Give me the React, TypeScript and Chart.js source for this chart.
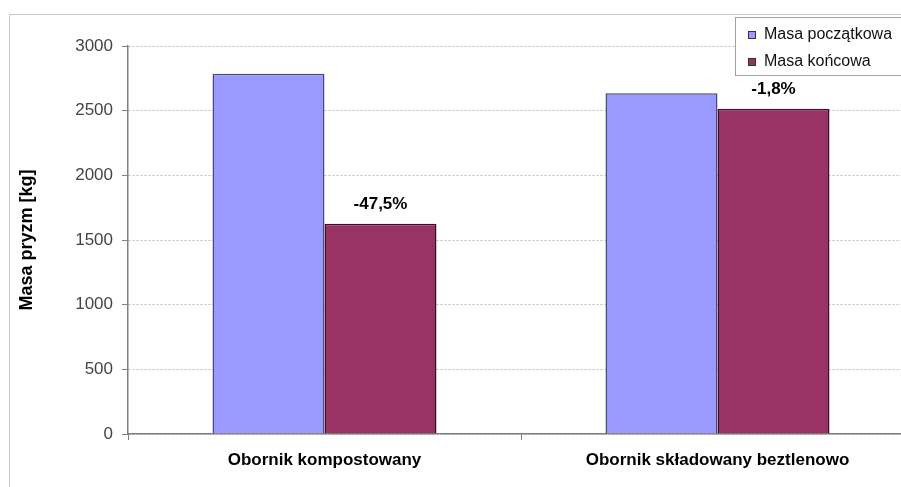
import React, { useEffect, useRef } from "react";
import { Chart, registerables } from "chart.js";

Chart.register(...registerables);

const categories = ["Obornik kompostowany", "Obornik składowany beztlenowo"];
const masaPoczatkowa = [2785, 2635];
const masaKoncowa = [1625, 2515];
const changeLabels = ["-47,5%", "-1,8%"];
const seriesNames = ["Masa początkowa", "Masa końcowa"];
const yTicks = [0, 500, 1000, 1500, 2000, 2500, 3000];

const FONT = "'Liberation Sans', Arial, sans-serif";

const framePlugin = {
  id: "frame",
  beforeDraw(chart: any) {
    const ctx = chart.ctx;
    ctx.save();
    ctx.fillStyle = "#ffffff";
    ctx.fillRect(0, 0, chart.width, chart.height);
    ctx.strokeStyle = "#c8c8c8";
    ctx.lineWidth = 1;
    ctx.beginPath();
    ctx.moveTo(9.5, chart.height);
    ctx.lineTo(9.5, 14.5);
    ctx.lineTo(chart.width, 14.5);
    ctx.stroke();
    ctx.restore();
  },
  afterDraw(chart: any) {
    const ctx = chart.ctx;
    ctx.save();
    // value change labels
    const meta = chart.getDatasetMeta(1);
    ctx.font = `bold 17px ${FONT}`;
    ctx.fillStyle = "#000";
    ctx.textAlign = "center";
    ctx.textBaseline = "bottom";
    meta.data.forEach((bar: any, i: number) => {
      ctx.fillText(changeLabels[i], bar.x, bar.y - 11);
    });
    // x ticks at category boundaries
    const area = chart.chartArea;
    ctx.strokeStyle = "#808080";
    ctx.lineWidth = 1;
    const step = (area.right - area.left) / categories.length;
    for (let i = 0; i <= categories.length; i++) {
      const x = Math.round(area.left + step * i) + 0.5;
      ctx.beginPath();
      ctx.moveTo(x, area.bottom);
      ctx.lineTo(x, area.bottom + 6);
      ctx.stroke();
    }
    // legend box
    const lx = 735.5, ly = 17.5, lw = 200, lh = 58;
    ctx.fillStyle = "#ffffff";
    ctx.fillRect(lx, ly, lw, lh);
    ctx.strokeStyle = "#a0a0a0";
    ctx.strokeRect(lx, ly, lw, lh);
    const colors = ["#9999FF", "#993366"];
    ctx.font = `16px ${FONT}`;
    ctx.textAlign = "left";
    ctx.textBaseline = "middle";
    seriesNames.forEach((name, i) => {
      const cy = 35 + i * 27;
      ctx.fillStyle = colors[i];
      ctx.fillRect(748, cy - 4, 8, 8);
      ctx.strokeStyle = "#333";
      ctx.strokeRect(748.5, cy - 3.5, 7, 7);
      ctx.fillStyle = "#111";
      ctx.fillText(name, 764, cy);
    });
    ctx.restore();
  },
};

export default function App() {
  const ref = useRef<HTMLCanvasElement>(null);
  useEffect(() => {
    document.body.style.margin = "0";
    const chart = new Chart(ref.current!, {
      type: "bar",
      data: {
        labels: categories,
        datasets: [
          {
            label: seriesNames[0],
            data: masaPoczatkowa,
            backgroundColor: "#9999FF",
            borderColor: "#4a4a7a",
            borderWidth: 1.5,
            categoryPercentage: 0.57,
            barPercentage: 1.0,
          },
          {
            label: seriesNames[1],
            data: masaKoncowa,
            backgroundColor: "#993366",
            borderColor: "#3a1226",
            borderWidth: 1.5,
            categoryPercentage: 0.57,
            barPercentage: 1.0,
          },
        ],
      },
      options: {
        animation: false,
        responsive: false,
        maintainAspectRatio: false,
        layout: { padding: { top: 46, right: 24, bottom: 0, left: 0 } },
        plugins: { legend: { display: false }, tooltip: { enabled: false } },
        scales: {
          x: {
            grid: { display: false, drawTicks: false },
            border: { color: "#808080", width: 1.5 },
            ticks: {
              font: { family: FONT, size: 17, weight: "bold" },
              color: "#000",
              padding: 16,
            },
            afterFit(scale: any) {
              scale.height = 53;
            },
          },
          y: {
            min: 0,
            max: 3000,
            afterBuildTicks(scale: any) {
              scale.ticks = yTicks.map((v) => ({ value: v }));
            },
            grid: {
              color: "#bdbdbd",
              tickColor: "#808080",
              tickLength: 6,
            },
            border: { color: "#808080", width: 1.5, dash: [2, 2] },
            ticks: {
              font: { family: FONT, size: 17 },
              color: "#444",
              padding: 9,
              callback: (v: any) => String(v),
            },
            title: {
              display: true,
              text: "Masa pryzm [kg]",
              font: { family: FONT, size: 18, weight: "bold" },
              color: "#000",
              padding: { top: 16, bottom: 0 },
            },
            afterFit(scale: any) {
              scale.width = 128;
            },
          },
        },
      },
      plugins: [framePlugin],
    } as any);
    return () => chart.destroy();
  }, []);
  return (
    <div style={{ position: "absolute", left: 0, top: 0, width: 901, height: 487, overflow: "hidden" }}>
      <canvas ref={ref} width={938} height={487} style={{ display: "block" }} />
    </div>
  );
}
